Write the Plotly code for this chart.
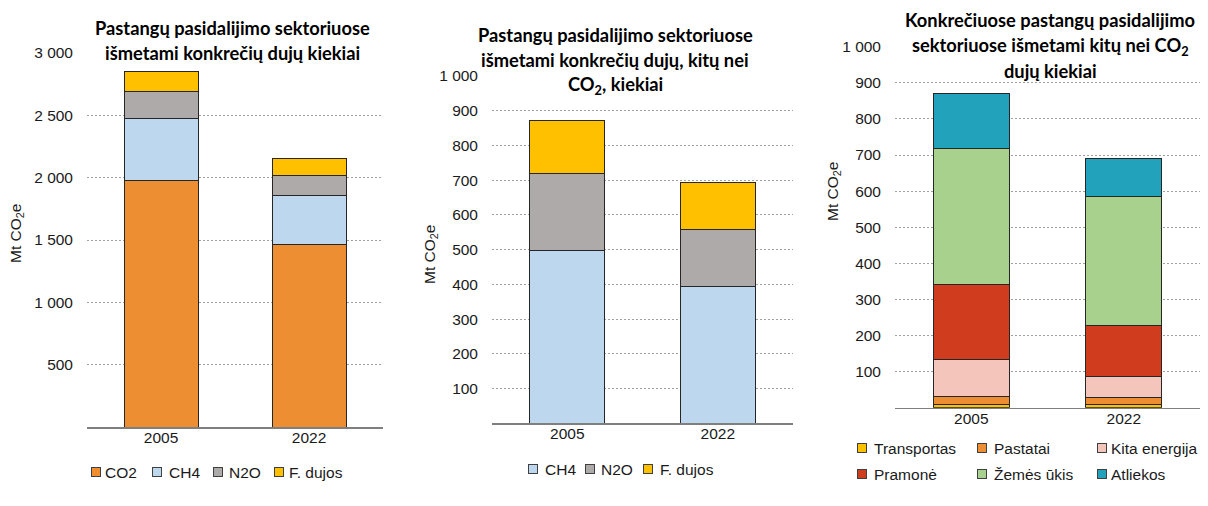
import plotly.graph_objects as go

# ---------------- data ----------------
years = ["2005", "2022"]

# Chart 1: all gases (Mt CO2e)
gases_1 = ["CO2", "CH4", "N2O", "F. dujos"]
co2 = [1975, 1462]
ch4 = [497, 394]
n2o = [221, 163]
f_dujos = [155, 135]

# Chart 2: non-CO2 gases
gases_2 = ["CH4", "N2O", "F. dujos"]

# Chart 3: non-CO2 by sector
sectors = ["Transportas", "Pastatai", "Kita energija", "Pramonė", "Žemės ūkis", "Atliekos"]
transportas = [9, 8]
pastatai = [21, 20]
kita_energija = [104, 59]
pramone = [208, 141]
zemes_ukis = [376, 356]
atliekos = [152, 107]

ticks_1 = [500, 1000, 1500, 2000, 2500, 3000]
ticks_23 = [100, 200, 300, 400, 500, 600, 700, 800, 900, 1000]

titles = [
    ["Pastangų pasidalijimo sektoriuose", "išmetami konkrečių dujų kiekiai"],
    ["Pastangų pasidalijimo sektoriuose", "išmetami konkrečių dujų, kitų nei", "CO<sub>2</sub>, kiekiai"],
    ["Konkrečiuose pastangų pasidalijimo", "sektoriuose išmetami kitų nei CO<sub>2</sub>", "dujų kiekiai"],
]

# ---------------- styling ----------------
W, H = 1208, 506
def fx(x):
    return x / W
def fy(y):
    return 1 - y / H

colors = {
    "CO2": "#ED8E32", "CH4": "#BDD7EE", "N2O": "#AEAAAA", "F. dujos": "#FFC000",
    "Transportas": "#FFC000", "Pastatai": "#ED8E32", "Kita energija": "#F4C5BB",
    "Pramonė": "#D03C1E", "Žemės ūkis": "#A9D18E", "Atliekos": "#22A3BB",
}
LINE = dict(color="#262626", width=1)
TICKFONT = dict(family="Liberation Sans, Arial", size=15.5, color="#1a1a1a")
LEGFONT = dict(family="Liberation Sans, Arial", size=15.5, color="#1a1a1a")
TITLEFONT = dict(family="Lato, Noto Sans", size=18.3, color="#000000")

fig = go.Figure()

def add_bar(name, vals, xa, ya):
    fig.add_trace(go.Bar(
        x=years, y=vals, name=name, xaxis=xa, yaxis=ya, showlegend=False,
        marker=dict(color=colors[name], line=LINE), width=0.5,
    ))

for name, vals in zip(gases_1, [co2, ch4, n2o, f_dujos]):
    add_bar(name, vals, "x", "y")
for name, vals in zip(gases_2, [ch4, n2o, f_dujos]):
    add_bar(name, vals, "x2", "y2")
for name, vals in zip(sectors, [transportas, pastatai, kita_energija, pramone, zemes_ukis, atliekos]):
    add_bar(name, vals, "x3", "y3")

panels = [
    # (x0, x1, ybottom, ytop, range max, ticks)
    (87, 383, 427, 53, 3000, ticks_1),
    (492, 793, 423.3, 76, 1000, ticks_23),
    (895, 1200, 407.7, 46.7, 1000, ticks_23),
]

layout = dict(
    template="none",
    width=W, height=H, margin=dict(l=0, r=0, t=0, b=0, autoexpand=False),
    paper_bgcolor="white", plot_bgcolor="white",
    barmode="stack", separators=". ", showlegend=False,
    font=dict(family="Liberation Sans, Arial", color="#1a1a1a"),
)
for i, (x0, x1, yb, yt, rmax, tv) in enumerate(panels):
    sfx = "" if i == 0 else str(i + 1)
    layout["xaxis" + sfx] = dict(
        type="category", range=[-0.5, 1.5],
        domain=[fx(x0), fx(x1)], anchor="y" + sfx, showgrid=False,
        showline=True, linecolor="#7F7F7F", linewidth=1.5, ticks="",
        tickfont=TICKFONT, fixedrange=True, ticklabelstandoff=-4, automargin=False,
    )
    layout["yaxis" + sfx] = dict(
        domain=[fy(yb), fy(yt)], anchor="x" + sfx, range=[0, rmax],
        tickvals=tv, tickformat=",d", tickfont=TICKFONT,
        showgrid=True, gridcolor="#A0A0A0", griddash="2px,2px", gridwidth=1,
        zeroline=False, showline=False, ticks="", fixedrange=True,
        ticklabelstandoff=13, automargin=False,
    )
fig.update_layout(**layout)

# titles (one annotation per line)
title_pos = [
    (232, [28, 53]),
    (615, [35, 60, 85]),
    (1050, [20, 46, 71]),
]
for lines, (cx, ys) in zip(titles, title_pos):
    for txt, yy in zip(lines, ys):
        fig.add_annotation(text="<b>" + txt + "</b>", x=fx(cx), y=fy(yy),
                           xref="paper", yref="paper", showarrow=False,
                           xanchor="center", yanchor="middle", font=TITLEFONT)

# y-axis titles
for cx, cy in [(16, 234), (430, 255), (833, 192)]:
    fig.add_annotation(text="Mt CO<sub>2</sub>e", x=fx(cx), y=fy(cy),
                       xref="paper", yref="paper", showarrow=False, textangle=-90,
                       xanchor="center", yanchor="middle",
                       font=dict(family="Liberation Sans, Arial", size=15.5, color="#1a1a1a"))

# legends (swatch + label), built from the series names
legend_specs = [
    (gases_1, [91, 152, 213, 274], [103, 167, 227, 287], [472] * 4),
    (gases_2, [528, 585, 643], [543, 599, 658], [469] * 3),
    (sectors, [857, 977, 1097] * 2, [872, 992, 1109] * 2, [448] * 3 + [474] * 3),
]
for names, mx, tx, ys in legend_specs:
    for name, m, t, yy in zip(names, mx, tx, ys):
        fig.add_annotation(text=" ", x=fx(m), y=fy(yy), xref="paper", yref="paper",
                           showarrow=False, xanchor="left", yanchor="middle",
                           width=8, height=8, borderpad=0, borderwidth=1,
                           bgcolor=colors[name], bordercolor="#404040",
                           font=dict(size=6))
        fig.add_annotation(text=name, x=fx(t), y=fy(yy), xref="paper", yref="paper",
                           showarrow=False, xanchor="left", yanchor="middle",
                           font=LEGFONT)

fig.write_html("out.html", config={"displayModeBar": False, "staticPlot": True},
               post_script="document.body.style.margin='0';")
